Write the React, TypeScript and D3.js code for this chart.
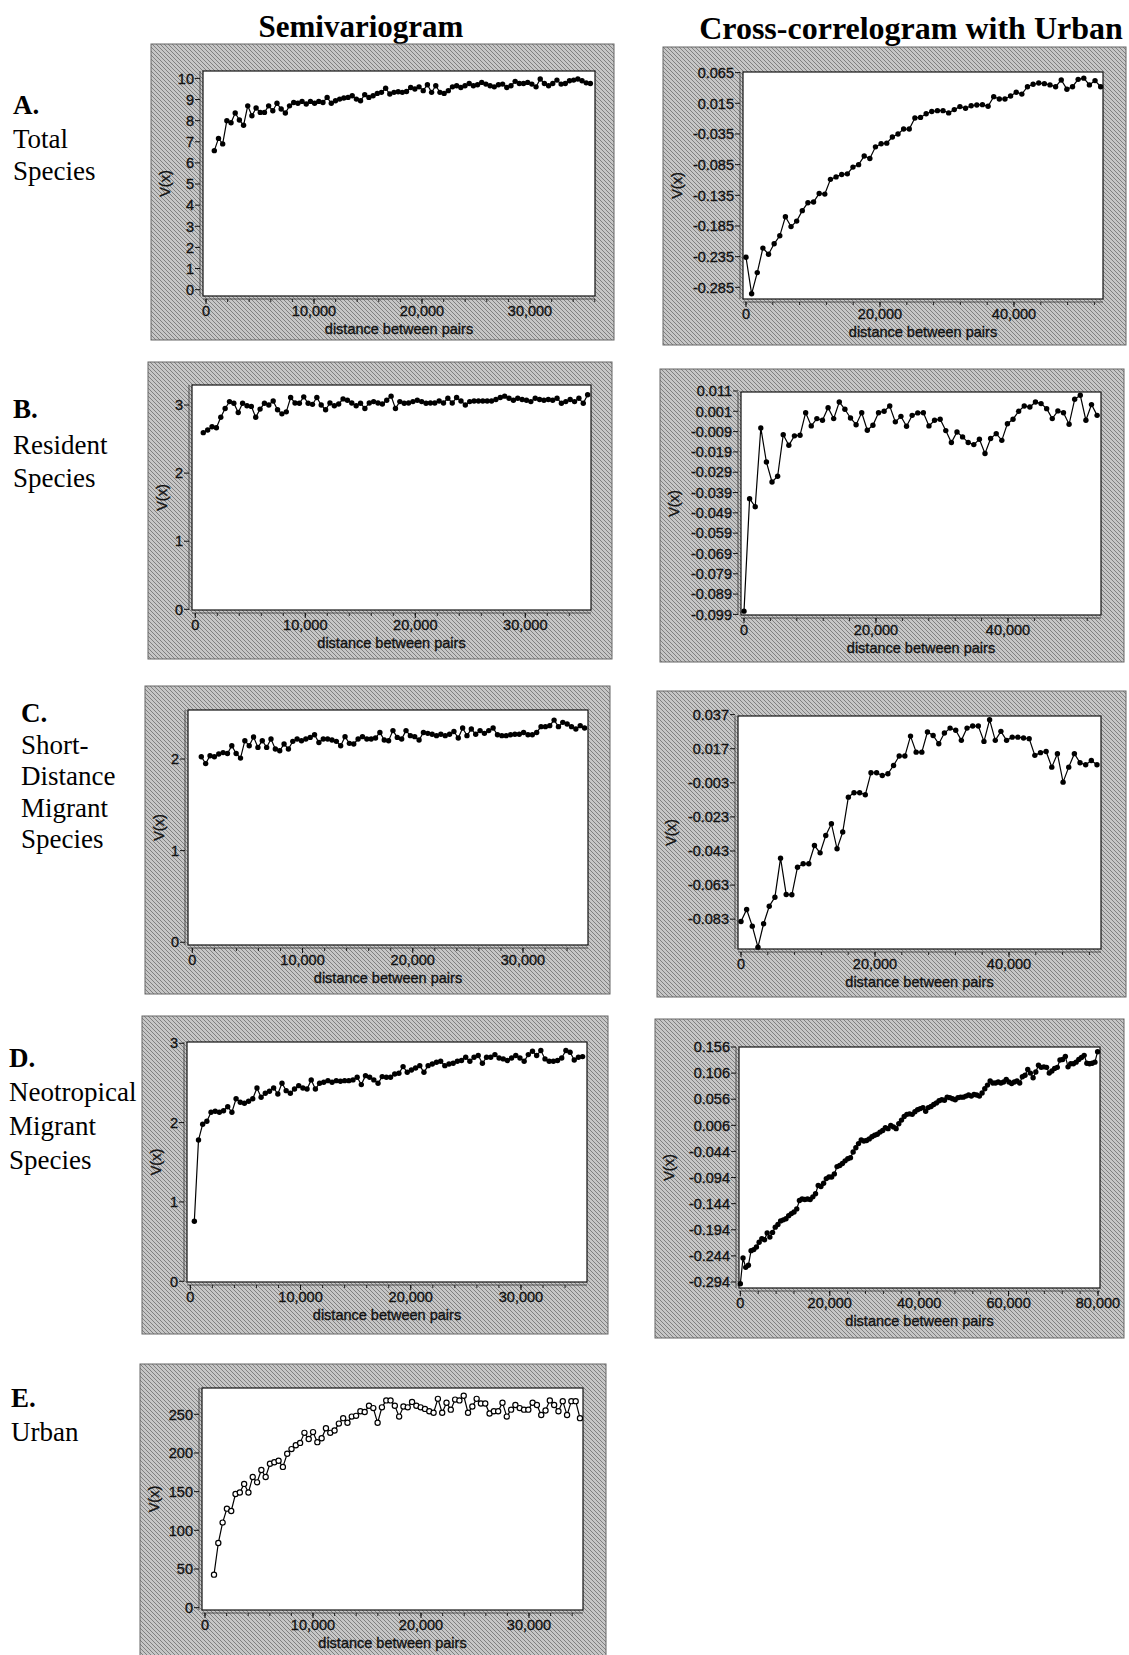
import React from 'react';
import * as d3 from 'd3';

// semivariogram / cross-correlogram values
const totalSemi = [
  6.58, 7.16, 6.9, 8.0, 7.9, 8.36, 8.03, 7.78, 8.7, 8.23,
  8.6, 8.39, 8.39, 8.7, 8.47, 8.82, 8.55, 8.36, 8.7, 8.86,
  8.82, 8.91, 8.79, 8.91, 8.82, 8.91, 8.86, 9.1, 8.82, 8.94,
  9.02, 9.07, 9.1, 9.18, 9.02, 8.94, 9.23, 9.1, 9.18, 9.29,
  9.34, 9.53, 9.26, 9.34, 9.37, 9.34, 9.38, 9.57, 9.5, 9.6,
  9.42, 9.7, 9.34, 9.65, 9.34, 9.29, 9.42, 9.6, 9.65, 9.57,
  9.65, 9.76, 9.65, 9.7, 9.81, 9.73, 9.65, 9.6, 9.7, 9.73,
  9.57, 9.65, 9.86, 9.76, 9.76, 9.81, 9.73, 9.6, 9.97, 9.76,
  9.65, 9.76, 9.92, 9.73, 9.76, 9.89, 9.92, 9.97, 9.89, 9.79, 9.76,
];
const totalCross = [
  -0.236, -0.2955, -0.261, -0.221, -0.231, -0.214, -0.201, -0.17, -0.186, -0.177,
  -0.16, -0.147, -0.146, -0.132, -0.133, -0.109, -0.105, -0.101, -0.1, -0.089,
  -0.085, -0.071, -0.075, -0.056, -0.051, -0.05, -0.04, -0.035, -0.027, -0.027,
  -0.009, -0.008, -0.002, 0.0015, 0.003, 0.003, -0.0007, 0.0047, 0.0096, 0.0069,
  0.011, 0.0123, 0.0128, 0.0101, 0.0258, 0.022, 0.022, 0.027, 0.033, 0.03,
  0.042, 0.046, 0.048, 0.047, 0.045, 0.042, 0.053, 0.038, 0.042, 0.054,
  0.056, 0.045, 0.052, 0.042,
];
const residentSemi = [
  2.594, 2.633, 2.68, 2.667, 2.82, 2.95, 3.05, 3.025, 2.89, 3.025,
  2.99, 2.98, 2.82, 2.94, 3.025, 3.0, 3.06, 2.93, 2.87, 2.9,
  3.11, 3.03, 3.025, 3.12, 3.025, 3.01, 3.11, 3.0, 2.93, 3.03,
  2.99, 3.015, 3.09, 3.07, 3.03, 2.99, 3.025, 2.95, 3.03, 3.05,
  3.03, 3.015, 3.07, 3.13, 2.95, 3.05, 3.025, 3.03, 3.05, 3.07,
  3.05, 3.025, 3.03, 3.03, 3.06, 3.03, 3.1, 3.03, 3.11, 3.06,
  3.0, 3.05, 3.06, 3.06, 3.06, 3.06, 3.06, 3.08, 3.11, 3.13,
  3.1, 3.07, 3.1, 3.08, 3.07, 3.05, 3.1, 3.08, 3.07, 3.08,
  3.07, 3.1, 3.025, 3.05, 3.08, 3.05, 3.1, 3.025, 3.15,
];
const residentCross = [
  -0.0974, -0.042, -0.046, -0.0072, -0.024, -0.0338, -0.031, -0.0105, -0.0157, -0.0111,
  -0.0108, 0.0003, -0.0062, -0.0026, -0.0034, 0.0028, -0.0026, 0.0056, 0.002, -0.0023,
  -0.0056, 0.0003, -0.0083, -0.0059, 0.0003, 0.001, 0.0036, -0.0042, -0.0015, -0.0064,
  -0.001, 0.0002, 0.0003, -0.0062, -0.0034, -0.0029, -0.0085, -0.0144, -0.0092, -0.0116,
  -0.0144, -0.0154, -0.0128, -0.0198, -0.0124, -0.01, -0.0133, -0.0051, -0.0029, 0.001,
  0.0036, 0.0031, 0.0056, 0.0048, 0.0023, -0.0026, 0.0012, 0.0003, -0.0054, 0.0069,
  0.0089, -0.0034, 0.0043, -0.001,
];
const shortSemi = [
  2.025, 1.95, 2.036, 2.025, 2.055, 2.07, 2.06, 2.145, 2.06, 2.01,
  2.2, 2.145, 2.24, 2.127, 2.2, 2.127, 2.218, 2.109, 2.09, 2.164,
  2.109, 2.193, 2.218, 2.2, 2.218, 2.236, 2.265, 2.18, 2.218, 2.218,
  2.207, 2.193, 2.145, 2.244, 2.171, 2.164, 2.218, 2.244, 2.218, 2.218,
  2.229, 2.29, 2.207, 2.2, 2.31, 2.236, 2.218, 2.31, 2.255, 2.244,
  2.207, 2.29, 2.28, 2.27, 2.255, 2.27, 2.255, 2.27, 2.3, 2.229,
  2.338, 2.255, 2.327, 2.27, 2.31, 2.28, 2.31, 2.338, 2.265, 2.255,
  2.255, 2.265, 2.27, 2.27, 2.29, 2.265, 2.265, 2.29, 2.353, 2.353,
  2.364, 2.425, 2.353, 2.4, 2.382, 2.353, 2.327, 2.364, 2.338,
];
const shortCross = [
  -0.0844, -0.0773, -0.0871, -0.0994, -0.0857, -0.0754, -0.0701, -0.0472, -0.0685, -0.0687,
  -0.0525, -0.0505, -0.0505, -0.0398, -0.0441, -0.0339, -0.027, -0.0417, -0.0319, -0.0114,
  -0.0088, -0.0088, -0.01, 0.0029, 0.0029, 0.0013, 0.0023, 0.0072, 0.0127, 0.0127,
  0.0244, 0.015, 0.015, 0.0268, 0.0248, 0.0199, 0.0262, 0.0291, 0.0278, 0.0219,
  0.0291, 0.0303, 0.0303, 0.0213, 0.034, 0.0219, 0.0272, 0.0219, 0.0238, 0.0238,
  0.0233, 0.0229, 0.0131, 0.0147, 0.0154, 0.0062, 0.0141, -0.0026, 0.0062, 0.0141,
  0.0088, 0.0076, 0.0101, 0.0076,
];
const neoSemi = [
  0.756, 1.78, 1.98, 2.017, 2.13, 2.143, 2.13, 2.15, 2.2, 2.13,
  2.3, 2.256, 2.244, 2.27, 2.3, 2.437, 2.32, 2.37, 2.395, 2.437,
  2.36, 2.496, 2.403, 2.37, 2.424, 2.466, 2.437, 2.424, 2.538, 2.424,
  2.496, 2.508, 2.529, 2.508, 2.529, 2.521, 2.529, 2.529, 2.538, 2.571,
  2.479, 2.592, 2.571, 2.538, 2.496, 2.58, 2.571, 2.571, 2.613, 2.622,
  2.706, 2.634, 2.664, 2.689, 2.718, 2.634, 2.718, 2.739, 2.761, 2.773,
  2.718, 2.739, 2.748, 2.773, 2.782, 2.824, 2.773, 2.824, 2.845, 2.748,
  2.824, 2.824, 2.857, 2.815, 2.803, 2.782, 2.815, 2.845, 2.815, 2.773,
  2.857, 2.9, 2.845, 2.908, 2.803, 2.773, 2.773, 2.782, 2.815, 2.908,
  2.887, 2.79, 2.824, 2.832,
];
const neoCross = [
  -0.2975, -0.248, -0.266, -0.262, -0.234, -0.232, -0.227, -0.218, -0.211, -0.213,
  -0.2, -0.208, -0.199, -0.189, -0.184, -0.177, -0.175, -0.173, -0.167, -0.163,
  -0.16, -0.154, -0.138, -0.135, -0.136, -0.135, -0.136, -0.131, -0.125, -0.109,
  -0.111, -0.105, -0.096, -0.093, -0.093, -0.087, -0.073, -0.071, -0.067, -0.062,
  -0.058, -0.056, -0.045, -0.037, -0.029, -0.022, -0.024, -0.023, -0.02, -0.016,
  -0.013, -0.011, -0.007, -0.004, 0.0015, -0.0004, 0.006, 0.003, -0.0004, 0.009,
  0.016, 0.023, 0.027, 0.028, 0.027, 0.032, 0.036, 0.038, 0.04, 0.033,
  0.04, 0.042, 0.046, 0.049, 0.053, 0.055, 0.054, 0.06, 0.059, 0.057,
  0.055, 0.059, 0.06, 0.06, 0.062, 0.064, 0.062, 0.065, 0.064, 0.062,
  0.068, 0.076, 0.083, 0.091, 0.087, 0.087, 0.089, 0.087, 0.089, 0.094,
  0.089, 0.086, 0.089, 0.091, 0.087, 0.099, 0.102, 0.113, 0.106, 0.097,
  0.108, 0.121, 0.117, 0.118, 0.117, 0.106, 0.11, 0.115, 0.117, 0.131,
  0.132, 0.138, 0.118, 0.124, 0.124, 0.127, 0.132, 0.136, 0.14, 0.125,
  0.124, 0.125, 0.127, 0.147,
];
const urbanSemi = [
  42.7, 83.6, 110, 128, 125, 147, 149, 160, 149, 169,
  162, 178, 169, 186, 188, 190, 182, 199, 205, 210,
  213, 226, 218, 227, 214, 219, 232, 226, 229, 238,
  245, 239, 247, 248, 254, 253, 261, 258, 239, 259,
  268, 268, 261, 247, 260, 259, 266, 261, 259, 257,
  254, 252, 270, 252, 265, 256, 269, 268, 274, 252,
  260, 270, 264, 264, 251, 254, 254, 265, 247, 256,
  262, 258, 256, 256, 265, 262, 249, 255, 268, 262,
  254, 267, 249, 267, 267, 245,
];

// tick labels
const semiXTicks = [0, 10000, 20000, 30000];
const crossXTicks = [0, 20000, 40000];
const neoCrossXTicks = [0, 20000, 40000, 60000, 80000];
const totalSemiYTicks = [0, 1, 2, 3, 4, 5, 6, 7, 8, 9, 10];
const totalCrossYTicks = [0.065, 0.015, -0.035, -0.085, -0.135, -0.185, -0.235, -0.285];
const residentSemiYTicks = [0, 1, 2, 3];
const residentCrossYTicks = [0.011, 0.001, -0.009, -0.019, -0.029, -0.039, -0.049, -0.059, -0.069, -0.079, -0.089, -0.099];
const shortSemiYTicks = [0, 1, 2];
const shortCrossYTicks = [0.037, 0.017, -0.003, -0.023, -0.043, -0.063, -0.083];
const neoSemiYTicks = [0, 1, 2, 3];
const neoCrossYTicks = [0.156, 0.106, 0.056, 0.006, -0.044, -0.094, -0.144, -0.194, -0.244, -0.294];
const urbanSemiYTicks = [0, 50, 100, 150, 200, 250];

const columnTitles = ['Semivariogram', 'Cross-correlogram with Urban'];
const rowLabels = [
  { letter: 'A.', lines: ['Total', 'Species'] },
  { letter: 'B.', lines: ['Resident', 'Species'] },
  { letter: 'C.', lines: ['Short-', 'Distance', 'Migrant', 'Species'] },
  { letter: 'D.', lines: ['Neotropical', 'Migrant', 'Species'] },
  { letter: 'E.', lines: ['Urban'] },
];

const sans = 'Liberation Sans, Arial, sans-serif';
const serif = 'Liberation Serif, Times New Roman, serif';

const fmt3 = (v) => v.toFixed(3);
const fmtInt = (v) => String(v);
const fmtX = d3.format(',');

const panels = [
  { values: totalSemi, lags: [770, 35590], box: [151, 44, 614, 340], plot: [203, 71, 595, 296],
    xDomain: [-278, 36019], yDomain: [-0.3, 10.35], xTicks: semiXTicks, minor: 2000, yTicks: totalSemiYTicks, yFmt: fmtInt },
  { values: totalCross, lags: [0, 52935], box: [663, 47, 1126, 345], plot: [743, 72, 1103, 299],
    xDomain: [-448, 53284], yDomain: [-0.304, 0.066], xTicks: crossXTicks, minor: 4000, yTicks: totalCrossYTicks, yFmt: fmt3 },
  { values: residentSemi, lags: [727, 35667], box: [148, 362, 612, 659], plot: [192, 385, 591, 610],
    xDomain: [-300, 35973], yDomain: [-0.01, 3.294], xTicks: semiXTicks, minor: 2000, yTicks: residentSemiYTicks, yFmt: fmtInt },
  { values: residentCross, lags: [0, 53500], box: [660, 369, 1124, 662], plot: [741, 392, 1101, 615],
    xDomain: [-455, 54090], yDomain: [-0.0993, 0.0105], xTicks: crossXTicks, minor: 4000, yTicks: residentCrossYTicks, yFmt: fmt3 },
  { values: shortSemi, lags: [816, 35590], box: [145, 686, 610, 994], plot: [188, 710, 588, 945],
    xDomain: [-392, 35900], yDomain: [-0.03, 2.535], xTicks: semiXTicks, minor: 2000, yTicks: shortSemiYTicks, yFmt: fmtInt },
  { values: shortCross, lags: [0, 53130], box: [657, 691, 1126, 997], plot: [738, 716, 1101, 949],
    xDomain: [-448, 53730], yDomain: [-0.1005, 0.0362], xTicks: crossXTicks, minor: 4000, yTicks: shortCrossYTicks, yFmt: fmt3 },
  { values: neoSemi, lags: [363, 35590], box: [142, 1016, 608, 1334], plot: [187, 1042, 587, 1282],
    xDomain: [-302, 35990], yDomain: [-0.009, 3.016], xTicks: semiXTicks, minor: 2000, yTicks: neoSemiYTicks, yFmt: fmtInt },
  { values: neoCross, lags: [0, 79910], box: [655, 1019, 1124, 1338], plot: [739, 1047, 1100, 1288],
    xDomain: [-298, 80450], yDomain: [-0.3055, 0.156], xTicks: neoCrossXTicks, minor: 4000, yTicks: neoCrossYTicks, yFmt: fmt3 },
  { values: urbanSemi, lags: [833, 34720], box: [140, 1364, 606, 1660], plot: [202, 1388, 583, 1610],
    xDomain: [-278, 35000], yDomain: [-3, 284], xTicks: semiXTicks, minor: 2000, yTicks: urbanSemiYTicks, yFmt: fmtInt, open: true },
];

const labelPos = [
  { x: 13, ys: [114, 148, 180] },
  { x: 13, ys: [418, 454, 487] },
  { x: 21, ys: [722, 754, 785, 817, 848] },
  { x: 9, ys: [1067, 1101, 1135, 1169] },
  { x: 11, ys: [1407, 1441] },
];

function Panel({ p }) {
  const [bx0, by0, bx1, by1] = p.box;
  const [px0, py0, px1, py1] = p.plot;
  const x = d3.scaleLinear().domain(p.xDomain).range([px0, px1]);
  const y = d3.scaleLinear().domain(p.yDomain).range([py1, py0]);
  const lag = d3.scaleLinear().domain([0, p.values.length - 1]).range(p.lags);
  const pts = p.values.map((v, i) => [lag(i), v]);
  const line = d3.line().x((d) => x(d[0])).y((d) => y(d[1]));
  const minorTicks = d3.range(0, p.xDomain[1], p.minor);
  const axY = py1 + 3;
  const txt = { fontFamily: sans, fill: '#111', stroke: '#111', strokeWidth: 0.35 };
  return (
    <g>
      <rect x={bx0} y={by0} width={bx1 - bx0} height={by1 - by0} fill="url(#hatch)" stroke="#666" strokeWidth={1} />
      <rect x={px0} y={py0} width={px1 - px0} height={py1 - py0} fill="#fff" stroke="#111" strokeWidth={1.2} />
      {/* y axis */}
      <line x1={px0 - 3} x2={px0 - 3} y1={py0} y2={py1} stroke="#333" strokeWidth={0.8} />
      {p.yTicks.map((t) => (
        <g key={'y' + t}>
          <line x1={px0 - 8} x2={px0 - 3} y1={y(t)} y2={y(t)} stroke="#111" strokeWidth={1} />
          <text x={px0 - 9} y={y(t)} dy="0.36em" textAnchor="end" fontSize={14.5} {...txt}>
            {p.yFmt(t)}
          </text>
        </g>
      ))}
      {/* x axis */}
      <line x1={px0} x2={px1} y1={axY} y2={axY} stroke="#333" strokeWidth={0.8} />
      {minorTicks.map((t) => (
        <line key={'m' + t} x1={x(t)} x2={x(t)} y1={axY} y2={axY + 3} stroke="#222" strokeWidth={1} />
      ))}
      {p.xTicks.map((t) => (
        <g key={'x' + t}>
          <line x1={x(t)} x2={x(t)} y1={axY} y2={axY + 5} stroke="#111" strokeWidth={1} />
          <text x={x(t)} y={py1 + 20} textAnchor="middle" fontSize={14.5} {...txt}>
            {fmtX(t)}
          </text>
        </g>
      ))}
      <text x={(px0 + px1) / 2} y={py1 + 38} textAnchor="middle" fontSize={14.5} {...txt}>
        distance between pairs
      </text>
      <text transform={`translate(${bx0 + 19},${(py0 + py1) / 2}) rotate(-90)`} textAnchor="middle" fontSize={14.5} {...txt}>
        V(x)
      </text>
      <path d={line(pts)} fill="none" stroke="#000" strokeWidth={1.2} />
      {pts.map((d, i) => (
        <circle key={i} cx={x(d[0])} cy={y(d[1])} r={p.open ? 2.6 : 2.7}
          fill={p.open ? '#fff' : '#000'} stroke="#000" strokeWidth={p.open ? 1.2 : 0} />
      ))}
    </g>
  );
}

export default function App() {
  return (
    <svg width={1129} height={1655} style={{ position: 'absolute', left: 0, top: 0, background: '#fff' }}>
      <defs>
        <pattern id="hatch" width={4} height={4} patternUnits="userSpaceOnUse">
          <rect width={4} height={4} fill="#c6c6c6" />
          <path d="M-1,-1 L5,5 M-1,3 L1,5 M3,-1 L5,1" stroke="#808080" strokeWidth={1} />
        </pattern>
      </defs>
      <text x={361} y={37} textAnchor="middle" fontFamily={serif} fontWeight="bold" fontSize={31}>{columnTitles[0]}</text>
      <text x={911} y={39} textAnchor="middle" fontFamily={serif} fontWeight="bold" fontSize={32}>{columnTitles[1]}</text>
      {rowLabels.map((r, i) => (
        <g key={r.letter}>
          <text x={labelPos[i].x} y={labelPos[i].ys[0]} fontFamily={serif} fontWeight="bold" fontSize={27}>{r.letter}</text>
          {r.lines.map((l, j) => (
            <text key={l + j} x={labelPos[i].x} y={labelPos[i].ys[j + 1]} fontFamily={serif} fontSize={27}>{l}</text>
          ))}
        </g>
      ))}
      {panels.map((p, i) => <Panel key={i} p={p} />)}
    </svg>
  );
}
